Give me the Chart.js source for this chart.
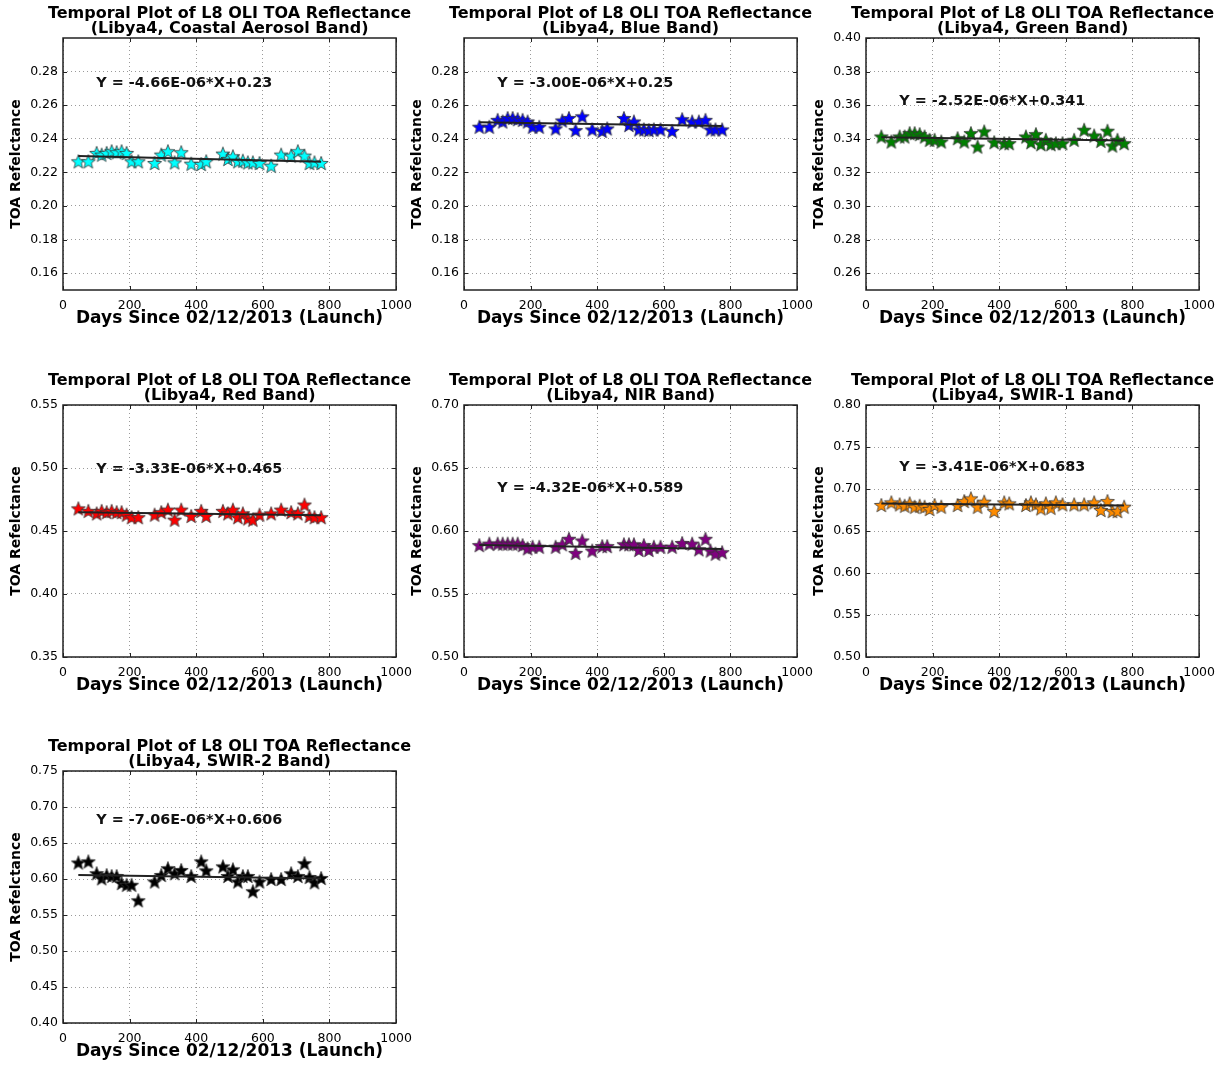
<!DOCTYPE html>
<html lang="en">
<head>
<meta charset="UTF-8">
<title>L8 OLI TOA Reflectance - Libya4</title>
<script src="https://cdn.jsdelivr.net/npm/chart.js"></script>
<style>
    body { margin: 0; background: #fff; overflow: hidden; }
    .panel { position: absolute; width: 420px; height: 332px; }
</style>
</head>
<body>

<div class="panel" style="left:0px;top:0px"><canvas id="c0"></canvas></div>
<div class="panel" style="left:401px;top:0px"><canvas id="c1"></canvas></div>
<div class="panel" style="left:803px;top:0px"><canvas id="c2"></canvas></div>
<div class="panel" style="left:0px;top:367px"><canvas id="c3"></canvas></div>
<div class="panel" style="left:401px;top:367px"><canvas id="c4"></canvas></div>
<div class="panel" style="left:803px;top:367px"><canvas id="c5"></canvas></div>
<div class="panel" style="left:0px;top:733px"><canvas id="c6"></canvas></div>

<script>
// days since launch of each Libya4 acquisition (same scenes for every band)
const days = [46, 76, 101, 116, 131, 146, 161, 176, 191, 206, 226, 275, 295, 315, 335, 355, 385, 415, 430,
              480, 495, 510, 525, 540, 555, 570, 590, 625, 655, 685, 705, 725, 740, 755, 775];

// TOA reflectance per band
const coastal = [0.2266, 0.2266, 0.2316, 0.2306, 0.2316, 0.2326, 0.232, 0.2326, 0.2316, 0.2266, 0.2266,
                 0.2256, 0.2306, 0.2326, 0.226, 0.232, 0.2252, 0.225, 0.2266,
                 0.2312, 0.228, 0.2296, 0.2266, 0.227, 0.226, 0.226, 0.2256,
                 0.224, 0.2306, 0.23, 0.2326, 0.23, 0.2256, 0.226, 0.2256];
const blue = [0.2472, 0.2472, 0.2513, 0.2503, 0.2524, 0.2524, 0.2517, 0.2513, 0.2503, 0.2472, 0.2472,
              0.2462, 0.2509, 0.2524, 0.2452, 0.2534, 0.2456, 0.2447, 0.2462,
              0.2524, 0.2482, 0.2503, 0.2456, 0.2456, 0.2452, 0.2456, 0.2456,
              0.2447, 0.2517, 0.2503, 0.2503, 0.2513, 0.2456, 0.2456, 0.2456];
const green = [0.3414, 0.3384, 0.3414, 0.3414, 0.3434, 0.3434, 0.3428, 0.3414, 0.3394, 0.3394, 0.3384,
               0.3404, 0.3384, 0.3434, 0.3354, 0.3444, 0.338, 0.3374, 0.3374,
               0.3414, 0.338, 0.3428, 0.3368, 0.3394, 0.3368, 0.3374, 0.3374,
               0.3394, 0.3454, 0.342, 0.3388, 0.3448, 0.336, 0.3394, 0.3374];
const red = [0.468, 0.466, 0.464, 0.466, 0.465, 0.466, 0.465, 0.465, 0.463, 0.461, 0.461,
             0.463, 0.465, 0.467, 0.459, 0.467, 0.462, 0.466, 0.462,
             0.466, 0.464, 0.467, 0.461, 0.464, 0.46, 0.459, 0.463,
             0.464, 0.467, 0.465, 0.464, 0.471, 0.462, 0.461, 0.461];
const nir = [0.5888, 0.590, 0.590, 0.590, 0.590, 0.590, 0.590, 0.5888, 0.5863, 0.5875, 0.5875,
             0.5875, 0.5895, 0.5938, 0.5826, 0.5925, 0.5845, 0.588, 0.588,
             0.5895, 0.5895, 0.5895, 0.585, 0.5888, 0.585, 0.5875, 0.5875,
             0.5875, 0.5905, 0.590, 0.5855, 0.5938, 0.5845, 0.582, 0.5832];
const swir1 = [0.681, 0.6841, 0.6817, 0.6801, 0.6829, 0.6789, 0.6801, 0.6789, 0.6762, 0.681, 0.679,
               0.681, 0.6857, 0.6889, 0.6789, 0.6849, 0.6738, 0.6841, 0.6829,
               0.681, 0.6841, 0.6817, 0.677, 0.6829, 0.6777, 0.6841, 0.6817,
               0.6817, 0.6817, 0.6841, 0.675, 0.6857, 0.6738, 0.6738, 0.679];
const swir2 = [0.623, 0.6245, 0.608, 0.601, 0.6056, 0.6042, 0.6042, 0.5944, 0.592, 0.592, 0.5704,
               0.5966, 0.6056, 0.615, 0.608, 0.6125, 0.6042, 0.6245, 0.612,
               0.6176, 0.6042, 0.6135, 0.5966, 0.6042, 0.6042, 0.583, 0.5966,
               0.600, 0.600, 0.608, 0.6042, 0.622, 0.6028, 0.5954, 0.6014];

const bandNames = ['Coastal Aerosol', 'Blue', 'Green', 'Red', 'NIR', 'SWIR-1', 'SWIR-2'];
const bandValues = [coastal, blue, green, red, nir, swir1, swir2];

// linear fit printed on each panel
const slopes = [-4.66e-6, -3.00e-6, -2.52e-6, -3.33e-6, -4.32e-6, -3.41e-6, -7.06e-6];
const intercepts = [0.23, 0.25, 0.341, 0.465, 0.589, 0.683, 0.606];
const fitLabels = ['Y = -4.66E-06*X+0.23', 'Y = -3.00E-06*X+0.25', 'Y = -2.52E-06*X+0.341',
                   'Y = -3.33E-06*X+0.465', 'Y = -4.32E-06*X+0.589', 'Y = -3.41E-06*X+0.683',
                   'Y = -7.06E-06*X+0.606'];

// axes
const xTicks = [0, 200, 400, 600, 800, 1000];
const yMin = [0.15, 0.15, 0.25, 0.35, 0.50, 0.50, 0.40];
const yMax = [0.30, 0.30, 0.40, 0.55, 0.70, 0.80, 0.75];
const yTicks = [
    [0.16, 0.18, 0.20, 0.22, 0.24, 0.26, 0.28],
    [0.16, 0.18, 0.20, 0.22, 0.24, 0.26, 0.28],
    [0.26, 0.28, 0.30, 0.32, 0.34, 0.36, 0.38, 0.40],
    [0.35, 0.40, 0.45, 0.50, 0.55],
    [0.50, 0.55, 0.60, 0.65, 0.70],
    [0.50, 0.55, 0.60, 0.65, 0.70, 0.75, 0.80],
    [0.40, 0.45, 0.50, 0.55, 0.60, 0.65, 0.70, 0.75]
];

// styling
const starColors = ['#00ffff', '#0000ff', '#008000', '#ff0000', '#800080', '#ff8c00', '#000000'];
const fitTextY = [0.2729, 0.2729, 0.3625, 0.4992, 0.634, 0.726, 0.682];
const FONT = "'DejaVu Sans', sans-serif";

function starImage(fill) {
    const s = 18;
    const c = document.createElement('canvas');
    c.width = s; c.height = s;
    const g = c.getContext('2d');
    const R = 7.4, r = R * 0.42;
    g.beginPath();
    for (let i = 0; i < 10; i++) {
        const rad = i % 2 ? r : R;
        const a = -Math.PI / 2 + i * Math.PI / 5;
        g.lineTo(s / 2 + rad * Math.cos(a), s / 2 + 0.8 + rad * Math.sin(a));
    }
    g.closePath();
    g.fillStyle = fill;
    g.fill();
    g.lineWidth = 0.8;
    g.strokeStyle = '#333';
    g.stroke();
    return c;
}

// full box, inward ticks, the two-line title and the fit equation, matplotlib style
const framePlugin = {
    id: 'frame',
    afterDraw(chart, args, opts) {
        const { ctx, chartArea: a, scales } = chart;
        ctx.save();
        ctx.strokeStyle = '#222';
        ctx.lineWidth = 1;
        ctx.beginPath();
        scales.y.ticks.forEach(t => {
            const py = Math.round(scales.y.getPixelForValue(t.value)) + 0.5;
            ctx.moveTo(a.left, py); ctx.lineTo(a.left + 4, py);
            ctx.moveTo(a.right - 4, py); ctx.lineTo(a.right, py);
        });
        scales.x.ticks.forEach(t => {
            const px = Math.round(scales.x.getPixelForValue(t.value)) + 0.5;
            ctx.moveTo(px, a.bottom); ctx.lineTo(px, a.bottom - 4);
            ctx.moveTo(px, a.top); ctx.lineTo(px, a.top + 4);
        });
        ctx.stroke();
        ctx.lineWidth = 1.5;
        ctx.strokeRect(a.left, a.top, a.right - a.left, a.bottom - a.top);

        ctx.fillStyle = '#000';
        ctx.textBaseline = 'middle';
        ctx.textAlign = 'center';
        ctx.font = 'bold 16px ' + FONT;
        const cx = (a.left + a.right) / 2;
        ctx.fillText(opts.title[0], cx, a.top - 24);
        ctx.fillText(opts.title[1], cx, a.top - 9.5);

        ctx.font = 'bold 14.4px ' + FONT;
        ctx.fillStyle = '#111';
        ctx.textAlign = 'left';
        ctx.fillText(opts.text, scales.x.getPixelForValue(opts.x), scales.y.getPixelForValue(opts.y));
        ctx.restore();
    }
};

for (let i = 0; i < bandValues.length; i++) {
    const vals = bandValues[i];
    const points = days.map((d, k) => ({ x: d, y: vals[k] }));
    const x0 = days[0], x1 = days[days.length - 1];
    const fit = [
        { x: x0, y: intercepts[i] + slopes[i] * x0 },
        { x: x1, y: intercepts[i] + slopes[i] * x1 }
    ];
    const ticksY = yTicks[i];

    new Chart(document.getElementById('c' + i), {
        type: 'scatter',
        data: {
            datasets: [
                {
                    type: 'line',
                    data: fit,
                    borderColor: '#222',
                    borderWidth: 2,
                    pointRadius: 0,
                    showLine: true,
                    order: 0
                },
                {
                    data: points,
                    pointStyle: starImage(starColors[i]),
                    order: 1
                }
            ]
        },
        options: {
            responsive: true,
            maintainAspectRatio: false,
            animation: false,
            layout: { padding: { left: 0, right: 23, top: 38, bottom: 0 } },
            plugins: {
                legend: { display: false },
                tooltip: { enabled: false },
                title: { display: false },
                frame: {
                    title: ['Temporal Plot of L8 OLI TOA Reflectance', '(Libya4, ' + bandNames[i] + ' Band)'],
                    text: fitLabels[i], x: 100, y: fitTextY[i]
                }
            },
            scales: {
                x: {
                    type: 'linear',
                    min: 0,
                    max: 1000,
                    afterBuildTicks: s => { s.ticks = xTicks.map(v => ({ value: v })); },
                    afterFit: s => { s.height = 42; },
                    grid: { color: '#9a9a9a', drawTicks: false },
                    border: { display: false, dash: [1, 3] },
                    ticks: {
                        padding: 8, color: '#000', maxRotation: 0, autoSkip: false,
                        font: { family: FONT, size: 12.5 },
                        callback: v => String(v)
                    },
                    title: {
                        display: true,
                        text: 'Days Since 02/12/2013 (Launch)',
                        color: '#000',
                        font: { family: FONT, size: 17, weight: 'bold' },
                        padding: { top: 0, bottom: 3 }
                    }
                },
                y: {
                    min: yMin[i],
                    max: yMax[i],
                    afterBuildTicks: s => { s.ticks = ticksY.map(v => ({ value: v })); },
                    afterFit: s => { s.width = 63; },
                    grid: { color: '#9a9a9a', drawTicks: false },
                    border: { display: false, dash: [1, 3] },
                    ticks: {
                        padding: 5, color: '#000',
                        font: { family: FONT, size: 12.5 },
                        callback: v => v.toFixed(2)
                    },
                    title: {
                        display: true,
                        text: 'TOA Refelctance',
                        color: '#000',
                        font: { family: FONT, size: 14, weight: 'bold' },
                        padding: { top: 8, bottom: 0 }
                    }
                }
            }
        },
        plugins: [framePlugin]
    });
}
</script>

</body>
</html>
